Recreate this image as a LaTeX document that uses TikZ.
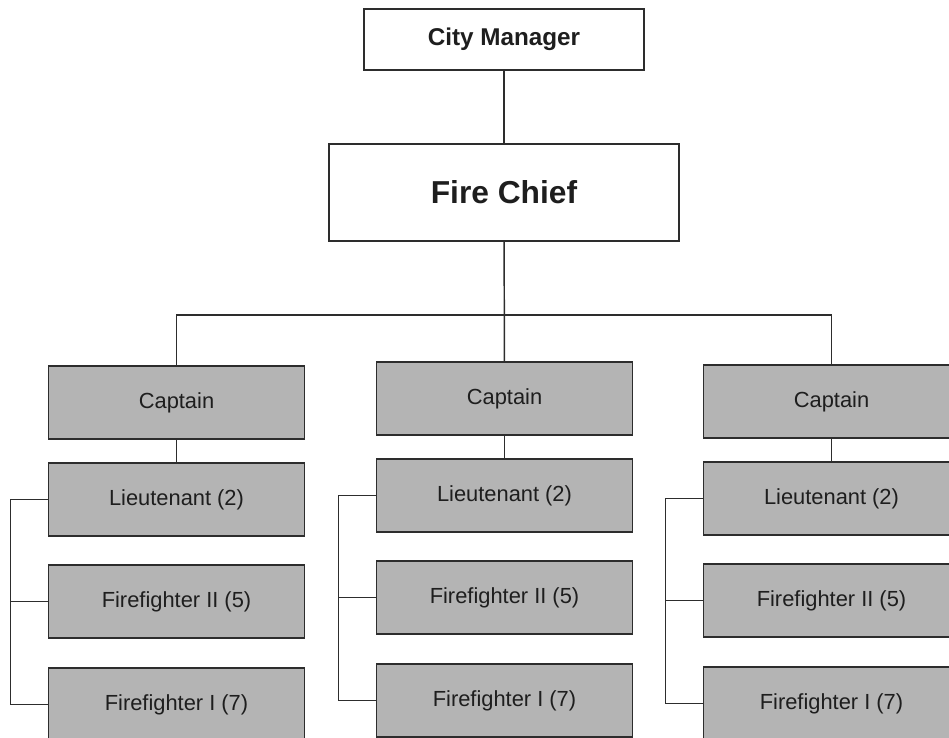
\documentclass[tikz,border=0pt]{standalone}
\usepackage{fontspec}
\setmainfont{Liberation Sans}

\definecolor{boxgray}{RGB}{180,180,180}
\definecolor{linegray}{RGB}{45,45,45}
\definecolor{textgray}{RGB}{30,30,30}

\tikzset{
    post/.style={draw=linegray, line width=1.1pt, text=textgray, inner sep=0, outer sep=0, align=center},
    headbox/.style={post, fill=white},
    rankbox/.style={post, fill=boxgray, minimum width=192pt, minimum height=54.75pt,
        font=\fontsize{16.4}{19}\selectfont},
    link/.style={draw=linegray, line width=1.1pt}
}

\begin{document}
\begin{tikzpicture}[x=0.75pt, y=-0.75pt]

\useasboundingbox (0, 0) rectangle (949, 738);
\clip (0, 0) rectangle (949, 738);

\node[headbox, minimum width=210pt, minimum height=45.75pt, font=\bfseries\fontsize{18.2}{21}\selectfont]
    (mgr) at (504, 39.5) {City Manager};
\node[headbox, minimum width=262.5pt, minimum height=72.75pt, font=\bfseries\fontsize{23.8}{27}\selectfont]
    (chief) at (504, 192.5) {Fire Chief};
\draw[link] (mgr) -- (chief);

\foreach\x/\top[count=\i] in {176.5/366, 504.5/362, 831.5/365}{
    \node[rankbox] (cap\i) at (\x, \top + 36.5) {Captain};
    \node[rankbox] (lt\i) at (\x, \top + 133.5) {Lieutenant (2)};
    \node[rankbox] (fftwo\i) at (\x, \top + 235.5) {Firefighter II (5)};
    \node[rankbox] (ffone\i) at (\x, \top + 338.5) {Firefighter I (7)};
    \draw[link] (cap\i) -- (lt\i);
    \draw[link] (lt\i.west) -- ++(-38, 0) |- (ffone\i.west);
    \draw[link] (fftwo\i.west) -- ++(-38, 0);
}

\coordinate (bus) at (504, 315);
\draw[link] (chief) -- (cap2);
\draw[link] (cap1.north) |- (bus) -| (cap3.north);

\end{tikzpicture}
\end{document}
